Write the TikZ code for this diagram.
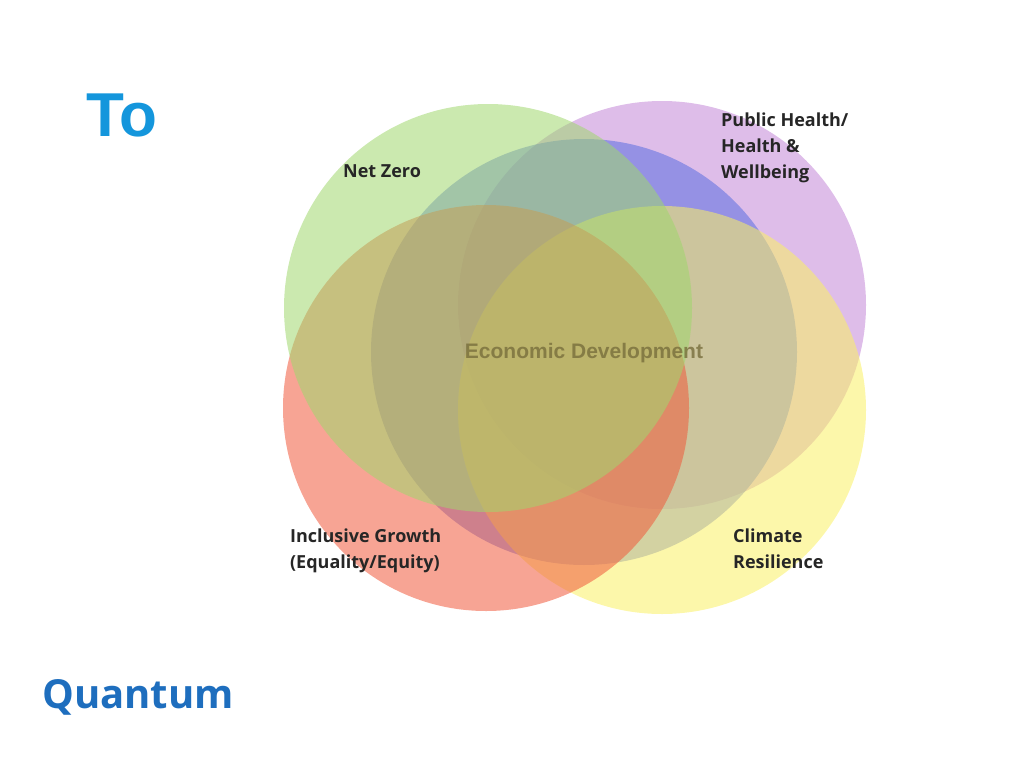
\documentclass[tikz,border=0pt]{standalone}
\usepackage{fontspec}
\setmainfont{Open Sans}
\newfontfamily\arialfont{Liberation Sans}
\definecolor{qblue}{RGB}{20,150,220}
\definecolor{logoblue}{RGB}{30,110,190}
\definecolor{econblue}{RGB}{90,110,225}
\definecolor{zerogreen}{RGB}{160,215,110}
\definecolor{healthpurple}{RGB}{195,135,215}
\definecolor{growthred}{RGB}{240,90,60}
\definecolor{climateyellow}{RGB}{250,240,100}
\definecolor{econtext}{RGB}{120,110,60}
\tikzset{every picture/.style={line width=0.75pt}}
\tikzset{
  venn/.style={fill=#1, fill opacity=0.55, draw=none},
  lbl/.style={anchor=north west, inner sep=0.75pt, font=\fontsize{18}{26}\selectfont\bfseries, text=black!85, align=left}
}
\begin{document}
\begin{tikzpicture}[x=1pt,y=1pt,yscale=-1,xscale=1]
        \useasboundingbox (0,0) rectangle (1024,768);

        % Circles
        \fill [venn=healthpurple] (662,305) circle (204);
        \fill [venn=econblue] (584,352) circle (213);
        \fill [venn=climateyellow] (662,410) circle (204);
        \fill [venn=growthred] (486,408) circle (203);
        \fill [venn=zerogreen] (488,308) circle (204);
        % Text Node
        \node (ed) at (584,353) [inner sep=0pt, text=econtext, text opacity=0.8, font=\fontsize{21}{21}\selectfont\bfseries\arialfont] {Economic Development};

        % Text Node
        \node (title) at (122,115) [inner sep=0pt, text=qblue, font=\fontsize{62}{62}\selectfont\bfseries\arialfont] {To};
        % Text Node
        \node (nz) at (342,164) [lbl] {Net Zero};
        % Text Node
        \node (ph) at (720,112) [lbl] {Public Health/\\Health \&\\Wellbeing};
        % Text Node
        \node (ig) at (289,528) [lbl] {Inclusive Growth\\(Equality/Equity)};
        % Text Node
        \node (cr) at (732,528) [lbl] {Climate\\Resilience};
        % Text Node
        \node (logo) at (138,697) [inner sep=0pt, text=logoblue, font=\fontsize{40}{40}\selectfont\bfseries] {Quantum};
\end{tikzpicture}
\end{document}
